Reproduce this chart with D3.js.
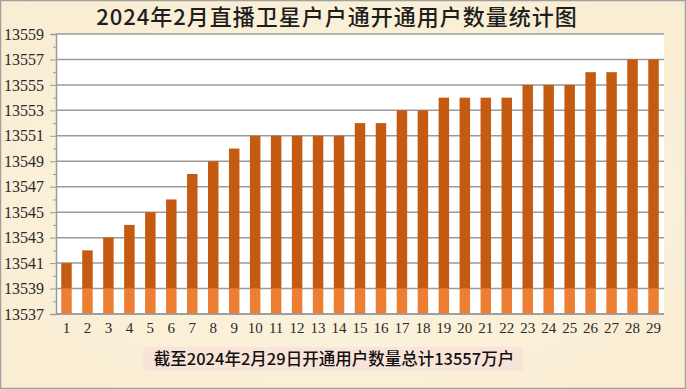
<!DOCTYPE html>
<html>
<head>
<meta charset="utf-8">
<script src="https://cdn.jsdelivr.net/npm/d3@7"></script>
<style>
  body { margin: 0; background: #fff; }
  #chart { width: 686px; height: 389px; }
</style>
</head>
<body>
<div id="chart"></div>
<script>
// data
const days = d3.range(1, 30).map(String);
const users = [13541, 13542, 13543, 13544, 13545, 13546, 13548, 13549, 13550, 13551,
               13551, 13551, 13551, 13551, 13552, 13552, 13553, 13553, 13554, 13554,
               13554, 13554, 13555, 13555, 13555, 13556, 13556, 13557, 13557];
const yTicks = [13537, 13539, 13541, 13543, 13545, 13547, 13549, 13551, 13553, 13555, 13557, 13559];
const title = "2024年2月直播卫星户户通开通用户数量统计图";
const caption = "截至2024年2月29日开通用户数量总计13557万户";
const floorValue = 13539;

const width = 686, height = 389;
const margin = {top: 34, right: 22, bottom: 75, left: 56};

const svg = d3.select("#chart")
  .append("svg")
  .attr("width", width)
  .attr("height", height);

// parchment background
const defs = svg.append("defs");
const bg = defs.append("radialGradient").attr("id", "bg")
  .attr("cx", "50%").attr("cy", "50%").attr("r", "75%");
bg.append("stop").attr("offset", "0%").attr("stop-color", "#fdf6e3");
bg.append("stop").attr("offset", "100%").attr("stop-color", "#f8ecd0");

svg.append("rect")
  .attr("x", 0.5).attr("y", 0.5)
  .attr("width", width - 1).attr("height", height - 1)
  .attr("fill", "url(#bg)")
  .attr("stroke", "#a0a0a0")
  .attr("stroke-width", 1.5);

const x = d3.scaleBand()
  .domain(days)
  .range([margin.left, width - margin.right])
  .paddingInner(0.5)
  .paddingOuter(0.25);

const y = d3.scaleLinear()
  .domain([13537, 13559])
  .range([height - margin.bottom, margin.top]);

// plot area
svg.append("rect")
  .attr("x", margin.left)
  .attr("y", margin.top)
  .attr("width", width - margin.left - margin.right)
  .attr("height", height - margin.top - margin.bottom)
  .attr("fill", "#ffffff");

// gridlines
svg.append("g")
  .selectAll("line")
  .data(yTicks)
  .join("line")
    .attr("x1", margin.left)
    .attr("x2", width - margin.right)
    .attr("y1", d => y(d))
    .attr("y2", d => y(d))
    .attr("stroke", "#9a9a9a")
    .attr("stroke-width", 1.5);

// bars: dark part above the floor, light part below
const bars = svg.append("g");
bars.selectAll("rect.top")
  .data(users)
  .join("rect")
    .attr("class", "top")
    .attr("x", (d, i) => x(days[i]))
    .attr("width", x.bandwidth())
    .attr("y", d => y(d))
    .attr("height", d => y(floorValue) - y(d))
    .attr("fill", "#c55a11");

bars.selectAll("rect.low")
  .data(users)
  .join("rect")
    .attr("class", "low")
    .attr("x", (d, i) => x(days[i]))
    .attr("width", x.bandwidth())
    .attr("y", y(floorValue))
    .attr("height", y(13537) - y(floorValue))
    .attr("fill", "#ee7e32");

// y axis
const yAxis = d3.axisLeft(y)
  .tickValues(d3.range(13537, 13560))
  .tickSize(5)
  .tickFormat(d => yTicks.includes(d) ? d : "");

const yg = svg.append("g")
  .attr("transform", `translate(${margin.left},0)`)
  .call(yAxis);
yg.select(".domain").attr("stroke", "#9a9a9a").attr("stroke-width", 1.5);
yg.selectAll(".tick line")
  .attr("stroke", "#9a9a9a")
  .attr("x2", d => yTicks.includes(d) ? -6 : -3);
yg.selectAll(".tick text")
  .attr("x", -12)
  .style("font-family", "'Liberation Serif', 'DejaVu Serif', serif")
  .style("font-size", "16px")
  .style("fill", "#2a2a2a");

// x axis
const xg = svg.append("g")
  .attr("transform", `translate(0,${height - margin.bottom})`)
  .call(d3.axisBottom(x).tickSize(0).tickPadding(8));
xg.select(".domain")
  .attr("d", `M${margin.left},0H${width - margin.right}`)
  .attr("stroke", "#9a9a9a").attr("stroke-width", 1.5);
xg.selectAll(".tick text")
  .style("font-family", "'Liberation Serif', 'DejaVu Serif', serif")
  .style("font-size", "15px")
  .style("fill", "#2a2a2a");

// title
svg.append("text")
  .attr("x", 337)
  .attr("y", 25)
  .attr("text-anchor", "middle")
  .style("font-family", "'Noto Sans CJK SC', sans-serif")
  .style("font-size", "22px")
  .style("letter-spacing", "1px")
  .style("font-weight", "500")
  .style("fill", "#1e1e1e")
  .text(title);

// caption with pink box
svg.append("rect")
  .attr("x", 143).attr("y", 347)
  .attr("width", 380).attr("height", 24)
  .attr("fill", "#f9e4d9");

svg.append("text")
  .attr("x", 334)
  .attr("y", 365)
  .attr("text-anchor", "middle")
  .style("font-family", "'Noto Sans CJK SC', sans-serif")
  .style("font-size", "16.5px")
  .style("font-weight", "500")
  .style("fill", "#111")
  .text(caption);
</script>
</body>
</html>
